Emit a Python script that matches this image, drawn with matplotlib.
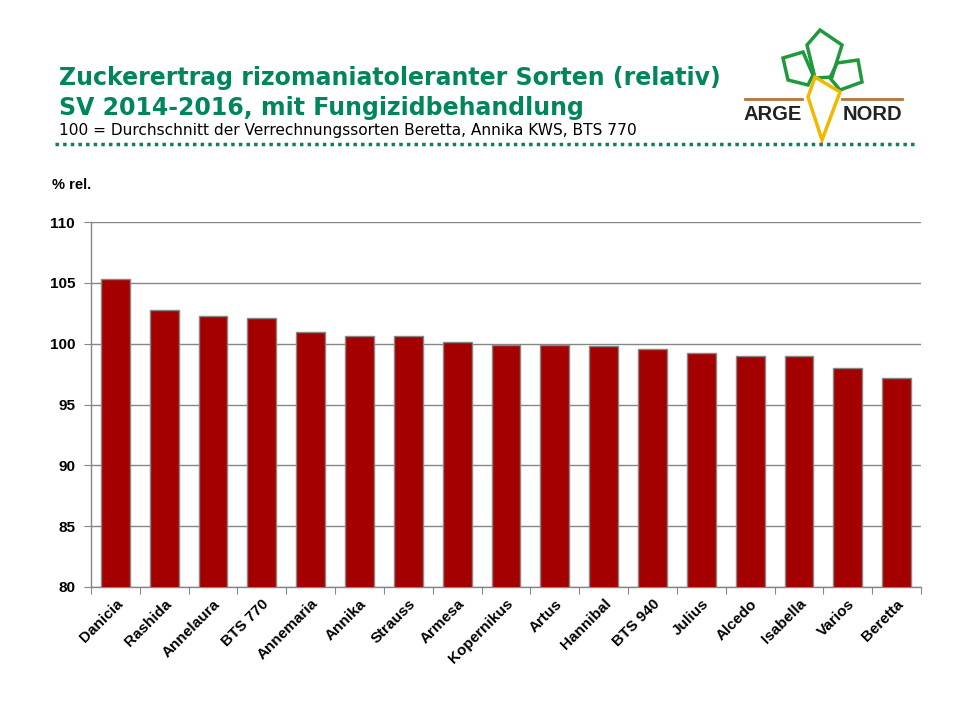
import matplotlib
matplotlib.use("Agg")
import matplotlib.pyplot as plt
from matplotlib.lines import Line2D
from matplotlib.patches import Polygon

plt.rcParams["font.family"] = ["Liberation Sans", "DejaVu Sans"]

# --- data ---
sorten = ["Danicia", "Rashida", "Annelaura", "BTS 770", "Annemaria", "Annika",
          "Strauss", "Armesa", "Kopernikus", "Artus", "Hannibal", "BTS 940",
          "Julius", "Alcedo", "Isabella", "Varios", "Beretta"]
zucker_rel = [105.3, 102.8, 102.3, 102.1, 101.0, 100.65, 100.6, 100.15, 99.9,
              99.85, 99.8, 99.6, 99.25, 99.0, 99.0, 98.0, 97.2]
y_ticks = [80, 85, 90, 95, 100, 105, 110]

GREEN = "#00855c"
BAR = "#a50000"
GRID = "#868686"

fig = plt.figure(figsize=(9.6, 7.2), dpi=100)
ax = fig.add_axes([91 / 960, 1 - 587 / 720, 830 / 960, 365 / 720])

x = range(len(sorten))
ax.bar(x, zucker_rel, width=0.59, bottom=0, color=BAR, edgecolor=GRID,
       linewidth=1, zorder=3)
ax.set_ylim(80, 110)
ax.set_xlim(-0.5, len(sorten) - 0.5)
ax.set_yticks(y_ticks)
ax.set_yticklabels([str(v) for v in y_ticks], fontsize=11, fontweight="bold")
ax.yaxis.grid(True, color=GRID, linewidth=1, zorder=0)
ax.set_axisbelow(True)

# x ticks at category boundaries, labels centred under bars
ax.set_xticks([i - 0.5 for i in range(len(sorten) + 1)])
ax.set_xticklabels([])
ax.set_xticks(list(x), minor=True)
ax.set_xticklabels(sorten, minor=True, rotation=45, ha="right",
                   rotation_mode="anchor", fontsize=11, fontweight="bold")
ax.tick_params(axis="x", which="minor", length=0, pad=7)
ax.tick_params(axis="x", which="major", length=5, color=GRID)
ax.tick_params(axis="y", length=5, color=GRID, pad=6.5)

for side in ["top", "right"]:
    ax.spines[side].set_visible(False)
for side in ["left", "bottom"]:
    ax.spines[side].set_color(GRID)
    ax.spines[side].set_linewidth(1)

# --- header ---
fig.text(59 / 960, 1 - 78 / 720, "Zuckerertrag rizomaniatoleranter Sorten (relativ)",
         color=GREEN, fontsize=17, fontweight="bold", va="center",
         family="DejaVu Sans")
fig.text(59 / 960, 1 - 108 / 720, "SV 2014-2016, mit Fungizidbehandlung",
         color=GREEN, fontsize=17, fontweight="bold", va="center",
         family="DejaVu Sans")
fig.text(59 / 960, 1 - 131 / 720,
         "100 = Durchschnitt der Verrechnungssorten Beretta, Annika KWS, BTS 770",
         color="black", fontsize=11.1, va="center", family="DejaVu Sans")
fig.add_artist(Line2D([55 / 960, 915 / 960], [1 - 144 / 720, 1 - 144 / 720],
                      transform=fig.transFigure, color=GREEN, linewidth=2.5,
                      linestyle=(0, (1, 1.2))))
fig.text(52 / 960, 1 - 185 / 720, "% rel.", fontsize=10.5, fontweight="bold",
         va="center")

# --- logo (rough sketch) ---
lg = fig.add_axes([730 / 960, 1 - 150 / 720, 200 / 960, 130 / 720])
lg.set_xlim(0, 200)
lg.set_ylim(130, 0)
lg.axis("off")
leaves = [
    [(90, 10), (112, 25), (102, 57), (85, 58), (77, 25)],
    [(53, 38), (73, 32), (83, 55), (78, 65), (58, 60)],
    [(107, 43), (128, 40), (132, 62), (110, 70), (100, 58)],
]
for pts in leaves:
    lg.add_patch(Polygon(pts, closed=True, fill=False, edgecolor="#1e9a3c",
                         linewidth=2.5))
lg.plot([15, 72], [79, 79], color="#b8733a", linewidth=2)
lg.plot([112, 172], [79, 79], color="#b8733a", linewidth=2)
lg.add_patch(Polygon([(85, 57), (110, 72), (92, 120), (78, 77)], closed=True,
                     fill=False, edgecolor="#f2b800", linewidth=2.5))
lg.text(43, 95, "ARGE", fontsize=14.5, fontweight="bold", color="#222222",
        ha="center", va="center")
lg.text(142, 95, "NORD", fontsize=14.5, fontweight="bold", color="#222222",
        ha="center", va="center")

fig.savefig("out.png", dpi=100)
